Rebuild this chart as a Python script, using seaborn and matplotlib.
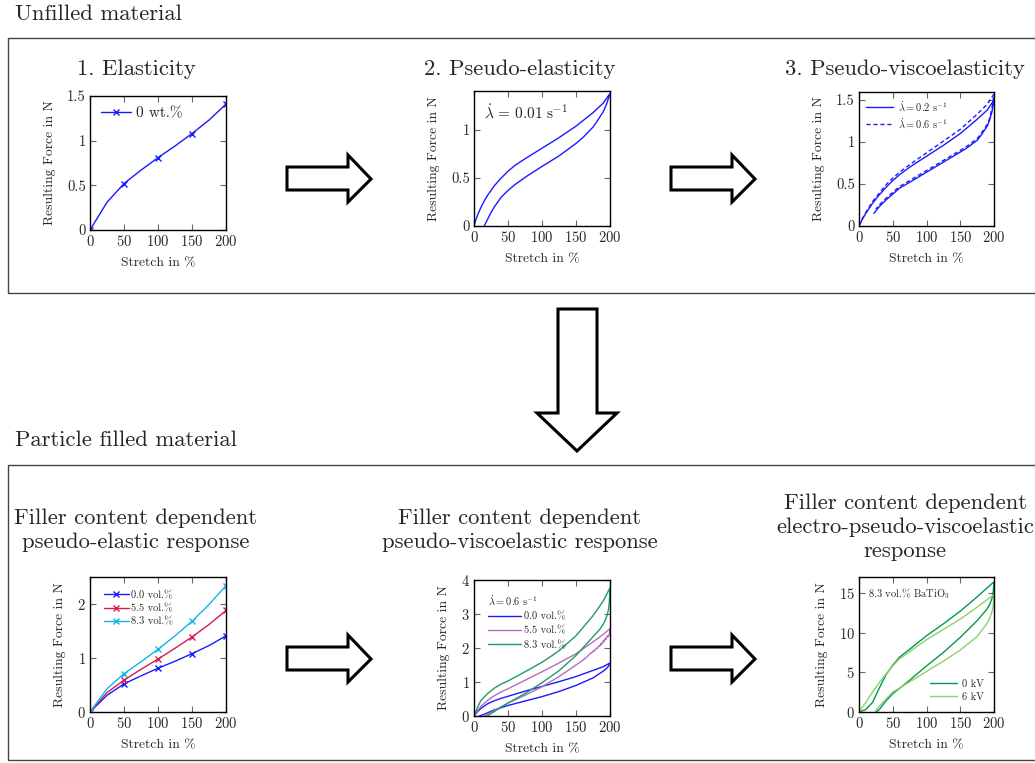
import numpy as np
import pandas as pd
import matplotlib
matplotlib.use("Agg")
import matplotlib.pyplot as plt
from matplotlib.patches import Polygon, Rectangle
import seaborn as sns

sns.set_style("ticks")
plt.rcParams.update({
    "font.family": "serif",
    "font.serif": ["cmr10"],
    "mathtext.fontset": "cm",
    "axes.formatter.use_mathtext": True,
    "axes.unicode_minus": False,
    "axes.linewidth": 1.0,
    "axes.edgecolor": "black",
})

# ---------------- data ----------------
# 1. Elasticity / filler content (quasi-static loading)
stretch_q = [0, 25, 50, 75, 100, 125, 150, 175, 200]
force_00 = [0, 0.31, 0.52, 0.67, 0.81, 0.94, 1.08, 1.23, 1.41]
force_55 = [0, 0.36, 0.59, 0.79, 0.98, 1.18, 1.39, 1.62, 1.88]
force_83 = [0, 0.43, 0.71, 0.93, 1.16, 1.41, 1.68, 1.99, 2.34]

# 2. Pseudo-elasticity, loading / unloading at 0.01 1/s
pe_x = [0, 2, 5, 10, 15, 20, 30, 40, 50, 60, 75, 100, 125, 150, 175, 190, 200,
        195, 190, 180, 175, 160, 150, 125, 100, 80, 60, 50, 40, 30, 25, 20, 15]
pe_y = [0, 0.05, 0.11, 0.19, 0.26, 0.32, 0.42, 0.50, 0.57, 0.63, 0.70, 0.81, 0.92,
        1.04, 1.18, 1.28, 1.38,
        1.27, 1.19, 1.08, 1.03, 0.92, 0.86, 0.73, 0.62, 0.53, 0.43, 0.37, 0.30,
        0.20, 0.14, 0.07, 0.0]

# 3. Pseudo-viscoelasticity, two stretch rates
pv02_x = [0, 5, 10, 20, 30, 40, 50, 60, 75, 100, 125, 150, 175, 190, 200,
          197, 193, 190, 180, 175, 160, 150, 125, 100, 75, 60, 50, 40, 30, 22]
pv02_y = [0, 0.08, 0.15, 0.27, 0.37, 0.46, 0.54, 0.61, 0.70, 0.83, 0.96, 1.10,
          1.27, 1.38, 1.50,
          1.36, 1.25, 1.19, 1.07, 1.02, 0.93, 0.88, 0.76, 0.64, 0.52, 0.45, 0.38,
          0.31, 0.23, 0.15]
pv06_x = [0, 5, 10, 20, 30, 40, 50, 60, 75, 100, 125, 150, 175, 190, 200,
          197, 193, 190, 180, 175, 160, 150, 125, 100, 75, 60, 50, 40, 30, 25]
pv06_y = [0, 0.09, 0.16, 0.29, 0.39, 0.49, 0.57, 0.64, 0.73, 0.87, 1.01, 1.15,
          1.33, 1.45, 1.57,
          1.40, 1.27, 1.21, 1.09, 1.04, 0.95, 0.90, 0.78, 0.66, 0.54, 0.47, 0.40,
          0.33, 0.25, 0.20]

# Filler content, 0.6 1/s loops
fv00_x = [0, 5, 10, 20, 30, 40, 50, 75, 100, 125, 150, 175, 190, 200,
          198, 195, 190, 175, 150, 125, 100, 75, 50, 30, 15, 8]
fv00_y = [0, 0.12, 0.22, 0.36, 0.45, 0.52, 0.58, 0.73, 0.87, 1.01, 1.16, 1.34, 1.45, 1.56,
          1.47, 1.40, 1.32, 1.12, 0.90, 0.72, 0.57, 0.44, 0.31, 0.18, 0.05, 0.0]
fv55_x = [0, 5, 10, 20, 30, 40, 50, 75, 100, 125, 150, 175, 190, 200,
          199, 197, 196, 194, 193, 191, 190, 188, 187, 185, 184, 181, 180,
          177, 176, 173, 172, 168, 165, 160, 150, 125, 100, 75, 50, 35, 25, 15]
fv55_y = [0, 0.15, 0.28, 0.46, 0.60, 0.71, 0.80, 1.05, 1.30, 1.56, 1.83, 2.18, 2.40, 2.57,
          2.40, 2.33, 2.36, 2.25, 2.28, 2.18, 2.21, 2.11, 2.14, 2.05, 2.07, 1.98, 2.00,
          1.91, 1.93, 1.85, 1.86, 1.78, 1.72, 1.64, 1.50, 1.16, 0.86, 0.61, 0.38, 0.22,
          0.10, 0.0]
fv83_x = [0, 5, 10, 20, 30, 40, 50, 75, 100, 115, 125, 150, 175, 190, 200,
          199.5, 199, 198, 196, 193, 190, 185, 175, 150, 125, 100, 75, 50, 35, 25, 20]
fv83_y = [0, 0.25, 0.45, 0.66, 0.82, 0.94, 1.03, 1.30, 1.58, 1.78, 1.92, 2.36, 2.95,
          3.38, 3.77,
          3.55, 3.35, 3.15, 2.98, 2.82, 2.70, 2.55, 2.33, 1.78, 1.33, 0.98, 0.66, 0.38,
          0.20, 0.07, 0.0]

# Electro-mechanical loops, 8.3 vol.% BaTiO3
kv0_x = [0, 10, 20, 30, 40, 50, 60, 75, 100, 125, 150, 175, 200,
         199, 197, 194, 190, 175, 150, 125, 100, 75, 50, 40, 30, 25]
kv0_y = [0, 0.3, 1.2, 3.0, 4.7, 5.9, 6.9, 7.9, 9.6, 11.1, 12.7, 14.5, 16.4,
         15.2, 14.3, 13.6, 13.0, 11.5, 9.4, 7.5, 5.8, 4.0, 2.3, 1.4, 0.3, 0.0]
kv6_x = [0, 10, 20, 30, 40, 50, 60, 75, 100, 125, 150, 175, 200,
         199, 197, 194, 190, 175, 150, 125, 100, 75, 50, 35, 25]
kv6_y = [0, 1.2, 2.5, 3.7, 4.8, 5.8, 6.7, 7.6, 9.1, 10.4, 11.7, 13.2, 14.8,
         13.5, 12.6, 11.9, 11.2, 9.5, 7.8, 6.4, 5.1, 3.8, 2.5, 1.2, 0.2]

BLUE = "#1a1aff"
RED = "#d11d52"
CYAN = "#14b4e8"
PURPLE = "#b56cc0"
TEAL = "#1c9c68"
DKGREEN = "#009a4e"
LTGREEN = "#8ed06a"

TITLE_FS = 16.3
W, H = 1035, 763
fig = plt.figure(figsize=(W / 100, H / 100), dpi=100)


def fx(x):
    return x / W


def fy(y):
    return 1 - y / H


def make_axes(left, right, top, bottom):
    return fig.add_axes([fx(left), fy(bottom), fx(right - left), (bottom - top) / H])


def style_axes(ax, ymax, yticks, yticklabels=None):
    ax.set_xlim(0, 200)
    ax.set_ylim(0, ymax)
    ax.set_xticks([0, 50, 100, 150, 200])
    ax.set_yticks(yticks)
    if yticklabels is not None:
        ax.set_yticklabels(yticklabels)
    ax.tick_params(direction="in", top=True, right=True, length=4, width=0.8,
                   color="#666666", labelsize=10.5, pad=3)
    ax.set_xlabel("Stretch in %", fontsize=9.8, labelpad=6)
    ax.set_ylabel("Resulting Force in N", fontsize=9.8, labelpad=8)
    for s in ax.spines.values():
        s.set_visible(True)
        s.set_linewidth(1.0)


def loop(ax, x, y, color, label=None, ls="-", lw=1.0):
    df = pd.DataFrame({"stretch": x, "force": y})
    sns.lineplot(data=df, x="stretch", y="force", sort=False, estimator=None,
                 color=color, linestyle=ls, linewidth=lw, label=label, ax=ax)


def marked(ax, x, y, color, label):
    sns.lineplot(x=x, y=y, sort=False, estimator=None, color=color,
                 marker="x", markersize=4, markeredgewidth=1.0,
                 markeredgecolor=color, markerfacecolor=color, markevery=2,
                 linewidth=1.0, label=label, ax=ax)


# ---------------- frames, headings, arrows ----------------
fig.text(fx(15), fy(14), "Unfilled material", fontsize=TITLE_FS, va="center", ha="left")
fig.text(fx(15), fy(440), "Particle filled material", fontsize=TITLE_FS, va="center", ha="left")
for top, bot in [(38, 293), (465, 760)]:
    fig.patches.append(Rectangle((fx(8), fy(bot)), fx(1040), (bot - top) / H,
                                 transform=fig.transFigure, fill=False,
                                 edgecolor="#444444", linewidth=1.0))


def right_arrow(x0, yc):
    pts = [(x0, yc - 12), (x0 + 61, yc - 12), (x0 + 61, yc - 24), (x0 + 84, yc),
           (x0 + 61, yc + 23), (x0 + 61, yc + 11), (x0, yc + 11)]
    fig.patches.append(Polygon([(fx(a), fy(b)) for a, b in pts], closed=True,
                               transform=fig.transFigure, facecolor="white",
                               edgecolor="black", linewidth=2.2, joinstyle="miter"))


for x0 in (287, 671):
    right_arrow(x0, 179)
    right_arrow(x0, 659)

down = [(558, 309), (597, 309), (597, 413), (617, 413), (577, 451), (537, 413), (558, 413)]
fig.patches.append(Polygon([(fx(a), fy(b)) for a, b in down], closed=True,
                           transform=fig.transFigure, facecolor="white",
                           edgecolor="black", linewidth=2.2, joinstyle="miter"))

fig.text(fx(136), fy(69), "1. Elasticity", fontsize=TITLE_FS, ha="center", va="center")
fig.text(fx(520), fy(69), "2. Pseudo-elasticity", fontsize=TITLE_FS, ha="center", va="center")
fig.text(fx(905), fy(69), "3. Pseudo-viscoelasticity", fontsize=TITLE_FS, ha="center", va="center")
fig.text(fx(136), fy(530), "Filler content dependent\npseudo-elastic response",
         fontsize=TITLE_FS, ha="center", va="center", linespacing=1.3)
fig.text(fx(520), fy(530), "Filler content dependent\npseudo-viscoelastic response",
         fontsize=TITLE_FS, ha="center", va="center", linespacing=1.3)
fig.text(fx(905), fy(527), "Filler content dependent\nelectro-pseudo-viscoelastic\nresponse",
         fontsize=TITLE_FS, ha="center", va="center", linespacing=1.3)

# ---------------- 1. Elasticity ----------------
ax1 = make_axes(90, 226, 96, 230)
marked(ax1, stretch_q, force_00, BLUE, "0 wt.%")
style_axes(ax1, 1.5, [0, 0.5, 1, 1.5], ["0", "0.5", "1", "1.5"])
ax1.legend(loc="upper left", frameon=False, fontsize=11, handlelength=2.0,
           handletextpad=0.3, borderaxespad=0.3, numpoints=1)

# ---------------- 2. Pseudo-elasticity ----------------
ax2 = make_axes(474, 610, 91, 226)
loop(ax2, pe_x, pe_y, BLUE)
style_axes(ax2, 1.406, [0, 0.5, 1], ["0", "0.5", "1"])
ax2.text(0.07, 0.84, r"$\dot{\lambda}\, =\, 0.01\ \mathrm{s}^{-1}$", transform=ax2.transAxes,
         fontsize=11, ha="left", va="center")

# ---------------- 3. Pseudo-viscoelasticity ----------------
ax3 = make_axes(859, 994, 92, 226)
loop(ax3, pv02_x, pv02_y, BLUE, label=r"$\dot{\lambda} = 0.2\ \mathrm{s}^{-1}$")
loop(ax3, pv06_x, pv06_y, BLUE, label=r"$\dot{\lambda} = 0.6\ \mathrm{s}^{-1}$", ls=(0, (3, 2)))
style_axes(ax3, 1.595, [0, 0.5, 1, 1.5], ["0", "0.5", "1", "1.5"])
ax3.legend(loc="upper left", frameon=False, fontsize=7.5, handlelength=2.6,
           handletextpad=0.4, borderaxespad=0.3, labelspacing=0.3)

# ---------------- filler content, pseudo-elastic ----------------
ax4 = make_axes(90, 226, 577, 712)
marked(ax4, stretch_q, force_00, BLUE, "0.0 vol.%")
marked(ax4, stretch_q, force_55, RED, "5.5 vol.%")
marked(ax4, stretch_q, force_83, CYAN, "8.3 vol.%")
style_axes(ax4, 2.5, [0, 1, 2])
ax4.legend(loc="upper left", frameon=False, fontsize=7.5, handlelength=2.4,
           handletextpad=0.2, borderaxespad=0.9, labelspacing=0.35, numpoints=1)

# ---------------- filler content, pseudo-viscoelastic ----------------
ax5 = make_axes(474, 610, 580, 716)
loop(ax5, fv00_x, fv00_y, BLUE, label="0.0 vol.%")
loop(ax5, fv55_x, fv55_y, PURPLE, label="5.5 vol.%")
loop(ax5, fv83_x, fv83_y, TEAL, label="8.3 vol.%")
style_axes(ax5, 4, [0, 1, 2, 3, 4])
ax5.legend(loc="upper left", frameon=False, fontsize=7.5, handlelength=3.2,
           handletextpad=0.3, borderaxespad=0.9, labelspacing=0.45,
           title=r"$\dot{\lambda} = 0.6\ \mathrm{s}^{-1}$", title_fontsize=7.5,
           alignment="left")

# ---------------- electro-mechanical ----------------
ax6 = make_axes(859, 994, 577, 712)
loop(ax6, kv0_x, kv0_y, DKGREEN, label="0 kV")
loop(ax6, kv6_x, kv6_y, LTGREEN, label="6 kV")
style_axes(ax6, 17.0, [0, 5, 10, 15])
ax6.text(0.07, 0.88, r"8.3 vol.% BaTiO$_3$", transform=ax6.transAxes,
         fontsize=7.5, ha="left", va="center")
ax6.legend(loc="lower right", frameon=False, fontsize=7.5, handlelength=2.6,
           handletextpad=0.4, borderaxespad=0.6, labelspacing=0.3)

fig.savefig("out.png", dpi=100)
